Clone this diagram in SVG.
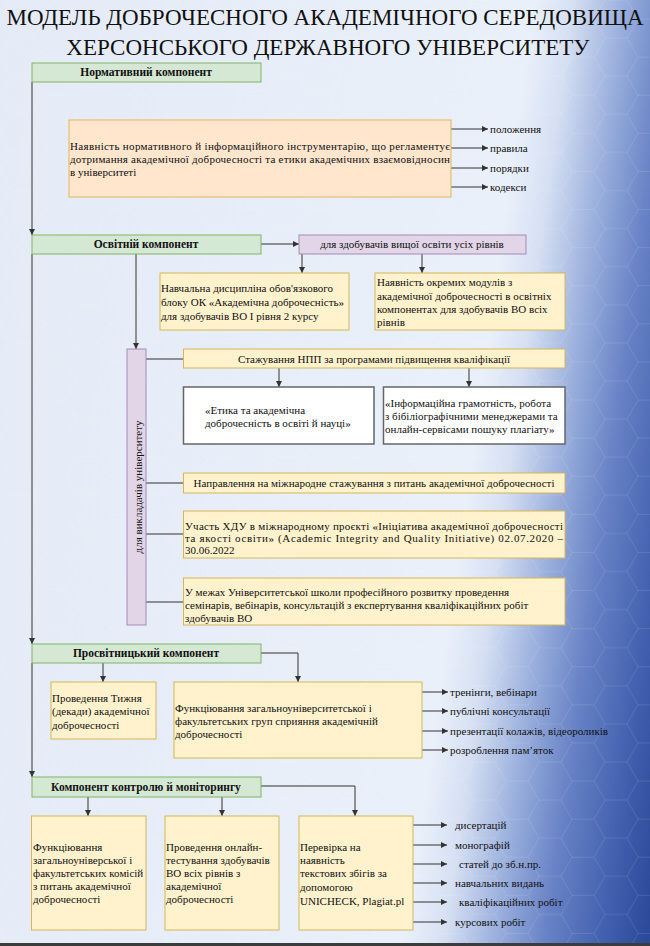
<svg xmlns="http://www.w3.org/2000/svg" width="650" height="946" viewBox="0 0 650 946" font-family="Liberation Serif">
<defs>
<linearGradient id="bg" gradientUnits="userSpaceOnUse" x1="0" y1="0" x2="760" y2="104">
<stop offset="0" stop-color="#e4ebf6"/>
<stop offset="0.69" stop-color="#e9f0fa"/>
<stop offset="0.74" stop-color="#d6e0f3"/>
<stop offset="0.80" stop-color="#a0b4df"/>
<stop offset="0.87" stop-color="#6883c6"/>
<stop offset="0.94" stop-color="#4462b0"/>
<stop offset="1" stop-color="#2d4a9a"/>
</linearGradient>
<pattern id="hex" patternUnits="userSpaceOnUse" width="66" height="38.1">
<path d="M0,19.05 L11,0 L33,0 L44,19.05 L33,38.1 L11,38.1 Z M44,19.05 L66,19.05" fill="none" stroke="#ffffff" stroke-opacity="0.18" stroke-width="0.6"/>
</pattern>
</defs>

<rect x="0" y="0" width="650" height="946" fill="url(#bg)"/>
<rect x="0" y="0" width="650" height="946" fill="url(#hex)"/>
<rect x="0" y="943" width="650" height="3" fill="#3c3c3c"/>

<g id="title" fill="#111" text-anchor="middle" font-size="23" font-family="Liberation Serif">
<text x="325" y="25" font-family="Liberation Serif">МОДЕЛЬ ДОБРОЧЕСНОГО АКАДЕМІЧНОГО СЕРЕДОВИЩА</text>
<text x="328" y="55" font-family="Liberation Serif">ХЕРСОНСЬКОГО ДЕРЖАВНОГО УНІВЕРСИТЕТУ</text>
</g>

<g id="connectors" fill="none" stroke="#333" stroke-width="1">
<path d="M32,82 V235"/>
<path d="M32,254 V644"/>
<path d="M32,663 V777"/>
<path d="M451,129 H488"/>
<path d="M451,148 H488"/>
<path d="M451,168 H488"/>
<path d="M451,187 H488"/>
<path d="M261,244 H299"/>
<path d="M302,254 V273"/>
<path d="M422,254 V273"/>
<path d="M136,254 V349"/>
<path d="M146,359 H183.5"/>
<path d="M279,368 V387"/>
<path d="M469,368 V387"/>
<path d="M146,483 H183.5"/>
<path d="M146,534 H183.5"/>
<path d="M146,602 H183.5"/>
<path d="M103,663 V682"/>
<path d="M261,653 H298 V682"/>
<path d="M422,692 H448"/>
<path d="M422,711 H448"/>
<path d="M422,731 H448"/>
<path d="M422,750 H448"/>
<path d="M88,797 V816"/>
<path d="M222,797 V816"/>
<path d="M261,786 H355 V816"/>
<path d="M413,825 H447"/>
<path d="M413,845 H447"/>
<path d="M413,864 H447"/>
<path d="M413,883 H447"/>
<path d="M413,902 H447"/>
<path d="M413,922 H447"/>
<g fill="#333" stroke="none">
<polygon points="29,229 35,229 32,235"/>
<polygon points="29,638 35,638 32,644"/>
<polygon points="29,771 35,771 32,777"/>
<polygon points="299,267 305,267 302,273"/>
<polygon points="419,267 425,267 422,273"/>
<polygon points="133,343 139,343 136,349"/>
<polygon points="276,381 282,381 279,387"/>
<polygon points="466,381 472,381 469,387"/>
<polygon points="100,676 106,676 103,682"/>
<polygon points="295,676 301,676 298,682"/>
<polygon points="85,810 91,810 88,816"/>
<polygon points="219,810 225,810 222,816"/>
<polygon points="352,810 358,810 355,816"/>
<polygon points="482,126 482,132 488,129"/>
<polygon points="482,145 482,151 488,148"/>
<polygon points="482,165 482,171 488,168"/>
<polygon points="482,184 482,190 488,187"/>
<polygon points="293,241 293,247 299,244"/>
<polygon points="442,689 442,695 448,692"/>
<polygon points="442,708 442,714 448,711"/>
<polygon points="442,728 442,734 448,731"/>
<polygon points="442,747 442,753 448,750"/>
<polygon points="441,822 441,828 447,825"/>
<polygon points="441,842 441,848 447,845"/>
<polygon points="441,861 441,867 447,864"/>
<polygon points="441,880 441,886 447,883"/>
<polygon points="441,899 441,905 447,902"/>
<polygon points="441,919 441,925 447,922"/>
</g>
</g>

<g id="normative">
<rect x="32" y="63" width="229" height="19" fill="#d5e8d4" stroke="#82b366"/>
<text x="146" y="76" font-family="Liberation Serif" font-size="11.5" font-weight="bold" text-anchor="middle" fill="#111">Нормативний компонент</text>
</g>

<g id="normative-tools" font-family="Liberation Serif" font-size="11" fill="#111">
<rect x="69" y="120" width="382" height="77" fill="#ffe6cc" stroke="#e3b55a"/>
<text x="70" y="150" font-family="Liberation Serif" textLength="380" lengthAdjust="spacing">Наявність нормативного й інформаційного інструментарію, що регламентує</text>
<text x="70" y="163" font-family="Liberation Serif" textLength="380" lengthAdjust="spacing">дотримання академічної доброчесності та етики академічних взаємовідносин</text>
<text x="70" y="176" font-family="Liberation Serif">в університеті</text>
</g>

<g id="normative-labels" font-family="Liberation Serif" font-size="11" fill="#111">
<text x="490" y="133" font-family="Liberation Serif">положення</text>
<text x="490" y="152" font-family="Liberation Serif">правила</text>
<text x="490" y="172" font-family="Liberation Serif">порядки</text>
<text x="490" y="191" font-family="Liberation Serif">кодекси</text>
</g>

<g id="educational">
<rect x="32" y="235" width="229" height="19" fill="#d5e8d4" stroke="#82b366"/>
<text x="146" y="248" font-family="Liberation Serif" font-size="11.5" font-weight="bold" text-anchor="middle" fill="#111">Освітній компонент</text>
</g>

<g id="students-all">
<rect x="299" y="235" width="227" height="19" fill="#e1d5e7" stroke="#a58bb5"/>
<text x="412" y="248" font-family="Liberation Serif" font-size="11" text-anchor="middle" fill="#111">для здобувачів вищої освіти усіх рівнів</text>
</g>

<g id="discipline" font-family="Liberation Serif" font-size="11" fill="#111">
<rect x="160" y="273" width="189" height="57" fill="#fff2cc" stroke="#d6b656"/>
<text x="161" y="292" font-family="Liberation Serif">Навчальна дисципліна обов'язкового</text>
<text x="161" y="306" font-family="Liberation Serif">блоку ОК «Академічна доброчесність»</text>
<text x="161" y="320" font-family="Liberation Serif">для здобувачів ВО І рівня 2 курсу</text>
</g>

<g id="modules" font-family="Liberation Serif" font-size="11" fill="#111">
<rect x="375" y="273" width="190" height="57" fill="#fff2cc" stroke="#d6b656"/>
<text x="377" y="286" font-family="Liberation Serif">Наявність окремих модулів з</text>
<text x="377" y="300" font-family="Liberation Serif">академічної доброчесності в освітніх</text>
<text x="377" y="313" font-family="Liberation Serif">компонентах для здобувачів ВО всіх</text>
<text x="377" y="326" font-family="Liberation Serif">рівнів</text>
</g>

<g id="teachers">
<rect x="127" y="349" width="19" height="276" fill="#e1d5e7" stroke="#a58bb5"/>
<text transform="translate(141.5,487) rotate(-90)" x="0" y="0" font-family="Liberation Serif" font-size="11" text-anchor="middle" fill="#111">для викладачів університету</text>
</g>

<g id="internship">
<rect x="183.5" y="349" width="381.5" height="19" fill="#fff2cc" stroke="#d6b656"/>
<text x="374" y="363" font-family="Liberation Serif" font-size="11" text-anchor="middle" fill="#111">Стажування НПП за програмами підвищення кваліфікації</text>
</g>

<g id="ethics" font-family="Liberation Serif" font-size="11" fill="#111">
<rect x="183.5" y="387" width="190.5" height="57" fill="#ffffff" stroke="#666666" stroke-width="1.5"/>
<text x="205" y="414" font-family="Liberation Serif">«Етика та академічна</text>
<text x="205" y="427" font-family="Liberation Serif">доброчесність в освіті й науці»</text>
</g>

<g id="literacy" font-family="Liberation Serif" font-size="11" fill="#111">
<rect x="383.5" y="387" width="181.5" height="57" fill="#ffffff" stroke="#666666" stroke-width="1.5"/>
<text x="385" y="407" font-family="Liberation Serif">«Інформаційна грамотність, робота</text>
<text x="385" y="420" font-family="Liberation Serif">з бібіліографічними менеджерами та</text>
<text x="385" y="433" font-family="Liberation Serif">онлайн-сервісами пошуку плагіату»</text>
</g>

<g id="intl-internship">
<rect x="183.5" y="473" width="381.5" height="20" fill="#fff2cc" stroke="#d6b656"/>
<text x="374" y="487" font-family="Liberation Serif" font-size="11" text-anchor="middle" fill="#111">Направлення на міжнародне стажування з питань академічної доброчесності</text>
</g>

<g id="project" font-family="Liberation Serif" font-size="11" fill="#111">
<rect x="183.5" y="511" width="381.5" height="47" fill="#fff2cc" stroke="#d6b656"/>
<text x="185" y="529.5" font-family="Liberation Serif" textLength="378" lengthAdjust="spacing">Участь ХДУ в міжнародному проєкті «Ініціатива академічної доброчесності</text>
<text x="185" y="541.5" font-family="Liberation Serif" textLength="378" lengthAdjust="spacing">та якості освіти» (Academic Integrity and Quality Initiative) 02.07.2020 –</text>
<text x="185" y="553.5" font-family="Liberation Serif">30.06.2022</text>
</g>

<g id="school" font-family="Liberation Serif" font-size="11" fill="#111">
<rect x="183.5" y="578" width="381.5" height="47" fill="#fff2cc" stroke="#d6b656"/>
<text x="185" y="596" font-family="Liberation Serif">У межах Університетської школи професійного розвитку проведення</text>
<text x="185" y="609" font-family="Liberation Serif">семінарів, вебінарів, консультацій з експертування кваліфікаційних робіт</text>
<text x="185" y="622" font-family="Liberation Serif">здобувачів ВО</text>
</g>

<g id="enlightenment">
<rect x="32" y="644" width="229" height="19" fill="#d5e8d4" stroke="#82b366"/>
<text x="146" y="657" font-family="Liberation Serif" font-size="11.5" font-weight="bold" text-anchor="middle" fill="#111">Просвітницький компонент</text>
</g>

<g id="week" font-family="Liberation Serif" font-size="11" fill="#111">
<rect x="51" y="682" width="105" height="57" fill="#fff2cc" stroke="#d6b656"/>
<text x="52" y="702" font-family="Liberation Serif">Проведення Тижня</text>
<text x="52" y="715" font-family="Liberation Serif">(декади) академічної</text>
<text x="52" y="729" font-family="Liberation Serif">доброчесності</text>
</g>

<g id="groups" font-family="Liberation Serif" font-size="11" fill="#111">
<rect x="174" y="682" width="248" height="76" fill="#fff2cc" stroke="#d6b656"/>
<text x="175" y="712" font-family="Liberation Serif">Функціювання загальноуніверситетської і</text>
<text x="175" y="725" font-family="Liberation Serif">факультетських груп сприяння академічній</text>
<text x="175" y="738" font-family="Liberation Serif">доброчесності</text>
</g>

<g id="groups-labels" font-family="Liberation Serif" font-size="11" fill="#111">
<text x="450" y="696" font-family="Liberation Serif">тренінги, вебінари</text>
<text x="450" y="715" font-family="Liberation Serif">публічні консультації</text>
<text x="450" y="735" font-family="Liberation Serif">презентації колажів, відеороликів</text>
<text x="450" y="754" font-family="Liberation Serif">розроблення пам’яток</text>
</g>

<g id="control">
<rect x="32" y="777" width="229" height="20" fill="#d5e8d4" stroke="#82b366"/>
<text x="146" y="791" font-family="Liberation Serif" font-size="11.5" font-weight="bold" text-anchor="middle" fill="#111">Компонент контролю й моніторингу</text>
</g>

<g id="commissions" font-family="Liberation Serif" font-size="11" fill="#111">
<rect x="31.5" y="816" width="114.5" height="114" fill="#fff2cc" stroke="#d6b656"/>
<text x="33" y="851" font-family="Liberation Serif">Функціювання</text>
<text x="33" y="864" font-family="Liberation Serif">загальноуніверської і</text>
<text x="33" y="877" font-family="Liberation Serif">факультетських комісій</text>
<text x="33" y="890" font-family="Liberation Serif">з питань академічної</text>
<text x="33" y="903" font-family="Liberation Serif">доброчесності</text>
</g>

<g id="testing" font-family="Liberation Serif" font-size="11" fill="#111">
<rect x="165" y="816" width="114" height="114" fill="#fff2cc" stroke="#d6b656"/>
<text x="166" y="851" font-family="Liberation Serif">Проведення онлайн-</text>
<text x="166" y="864" font-family="Liberation Serif">тестування здобувачів</text>
<text x="166" y="877" font-family="Liberation Serif">ВО всіх рівнів з</text>
<text x="166" y="890" font-family="Liberation Serif">академічної</text>
<text x="166" y="903" font-family="Liberation Serif">доброчесності</text>
</g>

<g id="plagiarism" font-family="Liberation Serif" font-size="11" fill="#111">
<rect x="299" y="816" width="114" height="114" fill="#fff2cc" stroke="#d6b656"/>
<text x="300" y="851" font-family="Liberation Serif">Перевірка на</text>
<text x="300" y="864" font-family="Liberation Serif">наявність</text>
<text x="300" y="877" font-family="Liberation Serif">текстових збігів за</text>
<text x="300" y="891" font-family="Liberation Serif">допомогою</text>
<text x="300" y="905" font-family="Liberation Serif">UNICHECK, Plagiat.pl</text>
</g>

<g id="plagiarism-labels" font-family="Liberation Serif" font-size="11" fill="#111">
<text x="455" y="829" font-family="Liberation Serif">дисертацій</text>
<text x="455" y="849" font-family="Liberation Serif">монографій</text>
<text x="459" y="868" font-family="Liberation Serif">статей до зб.н.пр.</text>
<text x="455" y="887" font-family="Liberation Serif">навчальних видань</text>
<text x="459" y="906" font-family="Liberation Serif">кваліфікаційних робіт</text>
<text x="455" y="926" font-family="Liberation Serif">курсових робіт</text>
</g>
</svg>
